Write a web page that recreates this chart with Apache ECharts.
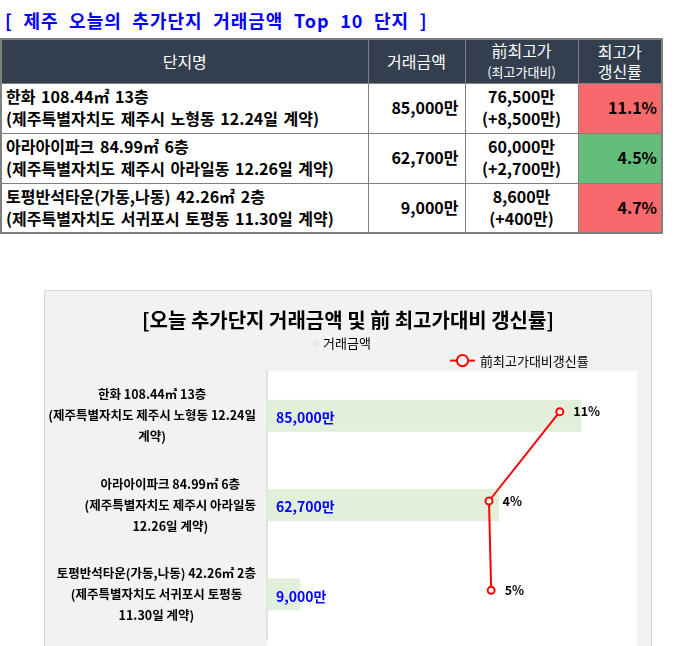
<!doctype html>
<html>
<head>
<meta charset="utf-8">
<title>제주 추가단지 거래금액</title>
<script src="https://cdn.jsdelivr.net/npm/echarts/dist/echarts.min.js"></script>
<style>
    html,body{
        margin: 0;
        padding: 0;
        width: 680px;
        height: 646px;
        background: #fff;
        overflow: hidden;
        font-family: "Noto Sans CJK KR", sans-serif;
    }
    .top-title{
        position: absolute;
        left: 5px;
        top: 8px;
        color: #0000ff;
        font-size: 18px;
        font-weight: bold;
        line-height: 24px;
        letter-spacing: 1px;
        word-spacing: 5.5px;
        white-space: nowrap;
    }
    .deal-table{
        position: absolute;
        left: 0;
        top: 38px;
        width: 661px;
        border-collapse: collapse;
        table-layout: fixed;
        border: 2px solid #808080;
    }
    .deal-table th,.deal-table td{
        border: 1px solid #808080;
        padding: 0;
        box-sizing: border-box;
    }
    .deal-table th{
        height: 44px;
        background: #333f4f;
        color: #fff;
        font-size: 16px;
        font-weight: normal;
        line-height: 20px;
        text-align: center;
    }
    .deal-table th small{
        font-size: 13px;
    }
    .deal-table td{
        height: 50px;
        font-size: 16px;
        font-weight: bold;
        line-height: 21.6px;
        color: #000;
        white-space: nowrap;
    }
    .deal-table td.name{ padding-left: 4px; word-spacing: 2px; }
    .deal-table td.amt{ text-align: right; padding-right: 6px; }
    .deal-table td.prev{ text-align: center; }
    .deal-table td.rate{ text-align: right; padding-right: 4px; }
    #combo_chart{
        position: absolute;
        left: 44px;
        top: 290px;
        width: 606px;
        height: 356px;
        border: 1px solid #d9d9d9;
        border-bottom: none;
    }
</style>
</head>
<body>
    <div class="top-title">[ 제주 오늘의 추가단지 거래금액 Top 10 단지 ]</div>
    <table class="deal-table">
        <colgroup>
            <col style="width:367px"><col style="width:97px"><col style="width:113px"><col style="width:84px">
        </colgroup>
        <thead>
            <tr><th>단지명</th><th>거래금액</th><th>前최고가<br><small>(최고가대비)</small></th><th>최고가<br>갱신률</th></tr>
        </thead>
        <tbody id="deal_rows"></tbody>
    </table>
    <div id="combo_chart"></div>

<script>
    // 단지 정보
    var names = ['한화 108.44㎡ 13층', '아라아이파크 84.99㎡ 6층', '토평반석타운(가동,나동) 42.26㎡ 2층'];
    var contracts = ['(제주특별자치도 제주시 노형동 12.24일 계약)', '(제주특별자치도 제주시 아라일동 12.26일 계약)', '(제주특별자치도 서귀포시 토평동 11.30일 계약)'];
    // 차트 축 라벨 (줄바꿈 포함)
    var chartLabels = [
        '한화 108.44㎡ 13층\n(제주특별자치도 제주시 노형동 12.24일\n계약)',
        '아라아이파크 84.99㎡ 6층\n(제주특별자치도 제주시 아라일동\n12.26일 계약)',
        '토평반석타운(가동,나동) 42.26㎡ 2층\n(제주특별자치도 서귀포시 토평동\n11.30일 계약)'
    ];
    // 금액 (만원)
    var amounts = [85000, 62700, 9000];
    var prevHighs = [76500, 60000, 8600];
    var gains = [8500, 2700, 400];
    // 갱신률 (%)
    var rates = [11.1, 4.5, 4.7];
    var rateLabels = ['11%', '4%', '5%'];
    var rateColors = ['#f8696b', '#63be7b', '#f8696b'];

    function fmt(n){
        return String(n).replace(/\B(?=(\d{3})+(?!\d))/g, ',');
    }

    var rows = '';
    for(var i = 0; i < names.length; i++){
        rows += '<tr>'
            + '<td class="name">' + names[i] + '<br>' + contracts[i] + '</td>'
            + '<td class="amt">' + fmt(amounts[i]) + '만</td>'
            + '<td class="prev">' + fmt(prevHighs[i]) + '만<br>(+' + fmt(gains[i]) + '만)</td>'
            + '<td class="rate" style="background:' + rateColors[i] + '">' + rates[i].toFixed(1) + '%</td>'
            + '</tr>';
    }
    document.getElementById('deal_rows').innerHTML = rows;

    var combo_chart = echarts.init(document.getElementById('combo_chart'));
    var combo_option = {
        backgroundColor: '#f2f2f2',
        textStyle: { fontFamily: 'Noto Sans CJK KR' },
        title: {
            text: '[오늘 추가단지 거래금액 및 前 최고가대비 갱신률]',
            left: 'center',
            top: 14,
            textStyle: { fontSize: 20, fontWeight: 'bold', color: '#000' }
        },
        legend: [{
            data: ['거래금액'],
            left: 268,
            top: 46,
            padding: 0,
            icon: 'rect',
            itemWidth: 6,
            itemHeight: 6,
            textStyle: { fontSize: 13, color: '#000', padding: [0, 0, 0, -1] }
        }, {
            data: ['前최고가대비갱신률'],
            left: 404,
            top: 63,
            padding: 0,
            itemWidth: 25,
            itemHeight: 14,
            textStyle: { fontSize: 13, color: '#000' }
        }],
        graphic: [{
            type: 'rect',
            silent: true,
            z: 0,
            shape: { x: 222, y: 80, width: 370, height: 280 },
            style: { fill: '#fff' }
        }],
        grid: [
            { left: 222, top: 80, width: 370, height: 268 },
            { left: 222, top: 76, width: 370, height: 268 }
        ],
        xAxis: [
            { type: 'value', gridIndex: 0, min: 0, max: 100000, show: false },
            { type: 'value', gridIndex: 1, min: -16.2, max: 18.3, show: false }
        ],
        yAxis: [{
            type: 'category',
            gridIndex: 0,
            inverse: true,
            data: chartLabels,
            axisTick: { show: false },
            axisLine: { lineStyle: { color: '#d9d9d9', width: 1.5 } },
            axisLabel: {
                margin: 11,
                formatter: function(v){
                    return v.split('\n').map(function(l){ return '{c|' + l + '}'; }).join('\n');
                },
                rich: {
                    c: { align: 'center', fontSize: 12.5, fontWeight: 'bold', color: '#000', lineHeight: 21 }
                }
            }
        }, {
            type: 'category',
            gridIndex: 1,
            inverse: true,
            data: chartLabels,
            show: false
        }],
        series: [{
            name: '거래금액',
            type: 'bar',
            xAxisIndex: 0,
            yAxisIndex: 0,
            barWidth: 32,
            itemStyle: { color: '#e2efda' },
            label: {
                show: true,
                position: 'insideLeft',
                distance: 9,
                offset: [0, 2],
                color: '#0000ff',
                fontSize: 14,
                fontWeight: 'bold',
                formatter: function(p){ return fmt(p.value) + '만'; }
            },
            data: amounts
        }, {
            name: '前최고가대비갱신률',
            type: 'line',
            xAxisIndex: 1,
            yAxisIndex: 1,
            symbol: 'emptyCircle',
            symbolSize: 7,
            lineStyle: { color: '#ff0000', width: 2 },
            itemStyle: { color: '#ff0000', borderColor: '#ff0000', borderWidth: 1.5 },
            label: {
                show: true,
                position: 'right',
                distance: 9,
                color: '#000',
                fontSize: 12.5,
                fontWeight: 'bold',
                formatter: function(p){ return rateLabels[p.dataIndex]; }
            },
            data: rates
        }]
    };
    combo_chart.setOption(combo_option);
</script>
</body>
</html>
